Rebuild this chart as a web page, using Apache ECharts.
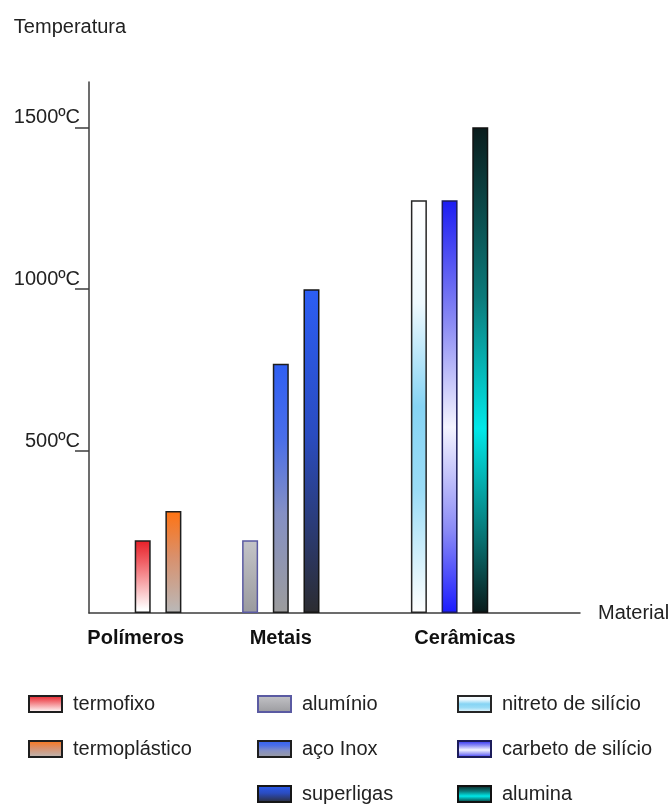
<!DOCTYPE html>
<html>
<head>
<meta charset="utf-8">
<script src="https://cdn.jsdelivr.net/npm/echarts@6/dist/echarts.min.js"></script>
<style>
html,body{margin:0;padding:0;background:#ffffff;}
#chart{width:669px;height:805px;}
</style>
</head>
<body>
<div id="chart"></div>
<script>
// ---------- data ----------
const groups = ['Polímeros', 'Metais', 'Cerâmicas'];
const polymerMaterials = ['termofixo', 'termoplástico'];
const metalMaterials = ['alumínio', 'aço Inox', 'superligas'];
const ceramicMaterials = ['nitreto de silício', 'carbeto de silício', 'alumina'];
const polymerTemps = [225, 315];
const metalTemps = [225, 770, 1000];
const ceramicTemps = [1275, 1275, 1500];
const yTickValues = [500, 1000, 1500];
const yTickLabels = ['500ºC', '1000ºC', '1500ºC'];
const yAxisName = 'Temperatura';
const xAxisName = 'Material';

// ---------- layout ----------
const SLOT_COUNT = 32;
const groupStartSlot = [3, 10, 21];
const slotStep = 2;
const groupLabelSlot = [3, 12, 24];
const FONT = "'Liberation Sans', Arial, sans-serif";

// ---------- styles ----------
const G = (stops) => new echarts.graphic.LinearGradient(0, 0, 0, 1,
  stops.map(s => ({offset: s[0], color: s[1]})));
const styles = {
  'termofixo': {color: G([[0, '#e61e26'], [0.3, '#f06066'], [0.95, '#ffffff']]), borderColor: '#1e1e1e'},
  'termoplástico': {color: G([[0, '#ff7312'], [0.45, '#d9906c'], [1, '#b9b9b9']]), borderColor: '#1e1e1e'},
  'alumínio': {color: G([[0, '#c4c4c8'], [1, '#9a9a9e']]), borderColor: '#5a5aa2'},
  'aço Inox': {color: G([[0, '#2f5ff3'], [0.3, '#4a6ee8'], [0.6, '#8590c4'], [1, '#9c9c9c']]), borderColor: '#1e1e1e'},
  'superligas': {color: G([[0, '#2c5ef4'], [0.45, '#2a4cc0'], [1, '#2c2c30']]), borderColor: '#161616'},
  'nitreto de silício': {color: G([[0, '#ffffff'], [0.25, '#eef9fe'], [0.5, '#86d4f4'], [0.7, '#9adcf6'], [1, '#ffffff']]), borderColor: '#262626'},
  'carbeto de silício': {color: G([[0, '#1c1cf2'], [0.3, '#8c8cf4'], [0.55, '#f4f4ff'], [0.8, '#8a8af6'], [1, '#1a1aff']]), borderColor: '#1c1c5a'},
  'alumina': {color: G([[0, '#0a1c1c'], [0.35, '#0b7a7a'], [0.62, '#00e8e8'], [0.85, '#087070'], [1, '#0a1a1a']]), borderColor: '#111111'}
};

// ---------- build ----------
const groupMaterials = [polymerMaterials, metalMaterials, ceramicMaterials];
const groupTemps = [polymerTemps, metalTemps, ceramicTemps];
const slots = Array.from({length: SLOT_COUNT}, (_, i) => 's' + i);

const series = [];
groupMaterials.forEach((mats, g) => {
  mats.forEach((name, j) => {
    const data = slots.map(() => null);
    data[groupStartSlot[g] + j * slotStep] = groupTemps[g][j];
    series.push({
      name: name,
      type: 'bar',
      data: data,
      barWidth: 16,
      barGap: '-100%',
      itemStyle: Object.assign({borderWidth: 1.5}, styles[name]),
      emphasis: {disabled: true}
    });
  });
});

const legendBase = {
  orient: 'vertical',
  top: 694,
  height: 140,
  width: 200,
  padding: 0,
  itemWidth: 33,
  itemHeight: 16,
  itemGap: 25,
  icon: 'rect',
  selectedMode: false,
  textStyle: {fontFamily: FONT, fontSize: 20, lineHeight: 20, color: '#222', padding: [0, 0, 0, 6]}
};

const chart = echarts.init(document.getElementById('chart'), null, {renderer: 'canvas'});
chart.setOption({
  animation: false,
  backgroundColor: '#ffffff',
  grid: {left: 89, top: 82, width: 491, height: 531, containLabel: false, outerBoundsMode: 'none'},
  legend: [
    Object.assign({}, legendBase, {left: 28, data: polymerMaterials}),
    Object.assign({}, legendBase, {left: 257, data: metalMaterials}),
    Object.assign({}, legendBase, {left: 457, data: ceramicMaterials})
  ],
  xAxis: {
    type: 'category',
    data: slots,
    boundaryGap: true,
    name: xAxisName,
    nameLocation: 'end',
    nameGap: 18,
    nameTextStyle: {fontFamily: FONT, fontSize: 20, color: '#222'},
    axisLine: {lineStyle: {color: '#3c3c3c', width: 1.5}},
    axisTick: {show: false},
    splitLine: {show: false},
    axisLabel: {
      interval: 0,
      margin: 15,
      hideOverlap: false,
      formatter: (v, idx) => {
        const g = groupLabelSlot.indexOf(idx);
        return g >= 0 ? '{g' + g + '|' + groups[g] + '}' : '';
      },
      rich: {
        g0: {fontFamily: FONT, fontSize: 20, fontWeight: 'bold', color: '#111', padding: [0, 14, 0, 0]},
        g1: {fontFamily: FONT, fontSize: 20, fontWeight: 'bold', color: '#111'},
        g2: {fontFamily: FONT, fontSize: 20, fontWeight: 'bold', color: '#111'}
      }
    }
  },
  yAxis: {
    type: 'value',
    min: 0,
    max: 1640,
    name: '{n|' + yAxisName + '}',
    nameLocation: 'end',
    nameGap: 45,
    nameTextStyle: {
      rich: {n: {fontFamily: FONT, fontSize: 20, color: '#222', padding: [0, 38, 0, 0]}}
    },
    axisLine: {show: true, lineStyle: {color: '#3c3c3c', width: 1.5}},
    axisTick: {show: true, inside: false, length: 14, customValues: yTickValues, lineStyle: {color: '#3c3c3c', width: 1.5}},
    splitLine: {show: false},
    axisLabel: {
      customValues: yTickValues,
      formatter: (v) => yTickLabels[yTickValues.indexOf(v)] || '',
      fontFamily: FONT,
      fontSize: 20,
      color: '#222',
      margin: 9,
      verticalAlign: 'bottom'
    }
  },
  series: series
});
</script>
</body>
</html>
